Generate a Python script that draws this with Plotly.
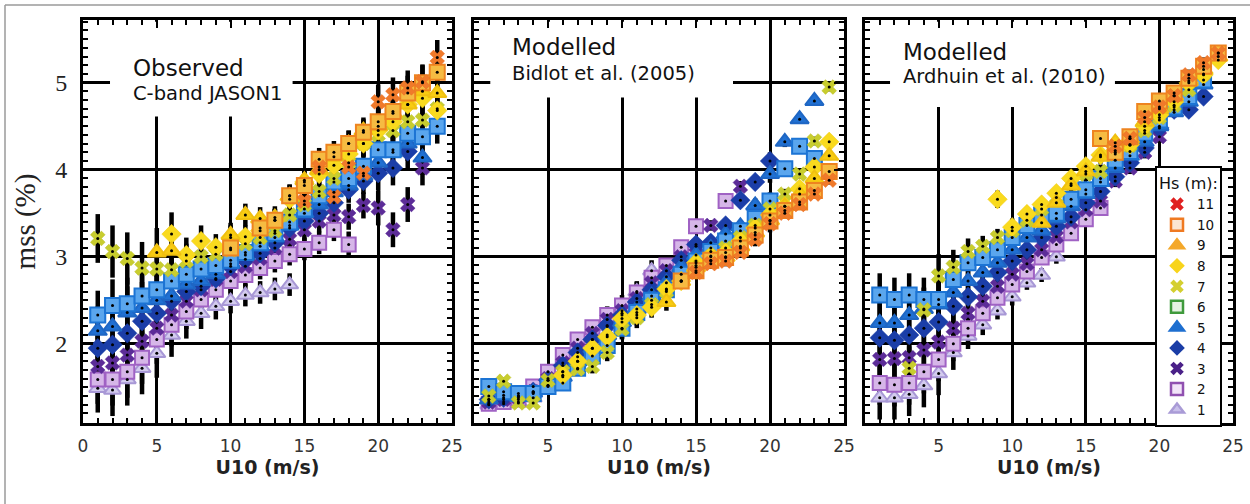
import plotly.graph_objects as go

# ---------------- data ----------------
U10 = list(range(1, 25))                      # wind-speed bins (m/s)
HS_LABELS = ["1", "2", "3", "4", "5", "6", "7", "8", "9", "10", "11"]
N = None

# Observed, C-band JASON1
obs_1 = [1.49, 1.47, 1.59, 1.72, 1.89, 2.10, 2.26, 2.35, 2.43, 2.49, 2.56, 2.59, 2.63, 2.68] + [N] * 10
obs_2 = [1.59, 1.59, 1.68, 1.84, 2.05, 2.22, 2.37, 2.51, 2.62, 2.72, 2.79, 2.87, 2.95, 3.03, 3.09, 3.16, 3.31, 3.14] + [N] * 6
obs_3 = [1.74, 1.78, 1.87, 2.03, 2.18, 2.33, 2.49, 2.62, 2.74, 2.83, 2.89, 2.98, 3.10, 3.20, 3.31, 3.41, 3.48, 3.46, 3.59, 3.56, 3.31, 3.60, 4.02, N]
obs_4 = [1.95, 1.99, 2.12, 2.26, 2.35, 2.49, 2.60, 2.66, 2.75, 2.89, 2.97, 3.04, 3.16, 3.33, 3.41, 3.50, 3.62, 3.77, 3.87, 3.96, 4.02, 4.21, N, N]
obs_5 = [2.15, 2.20, 2.36, 2.41, 2.50, 2.55, 2.68, 2.72, 2.80, 2.92, 3.02, 3.12, 3.22, 3.36, 3.50, 3.60, 3.74, 3.82, 3.93, 4.08, 4.20, 4.30, 4.14, N]
obs_6 = [2.33, 2.44, 2.46, 2.55, 2.62, 2.72, 2.80, 2.86, 2.90, 2.96, 3.05, 3.16, 3.27, 3.40, 3.55, 3.70, 3.86, 3.90, 4.04, 4.23, 4.23, 4.42, 4.38, 4.50]
obs_7 = [3.21, 3.06, 2.98, 2.87, 2.86, 2.85, 2.95, 3.00, 3.03, 3.08, 3.15, 3.22, 3.30, 3.48, 3.60, 3.75, 3.90, 4.08, 4.30, 4.40, 4.45, 4.55, 4.57, 4.70]
obs_8 = [N] * 5 + [3.26, 3.02, 3.18, 3.11, 3.22, 3.23, 3.30, 3.42, 3.66, 3.86, 3.95, 4.05, 4.18, 4.30, 4.45, 4.55, 4.75, 4.82, 4.68]
obs_9 = [N] * 4 + [3.05, 3.07, N, N, N, 3.25, 3.48, 3.44, 3.45, 3.70, 3.88, 4.00, 4.15, 4.30, 4.45, 4.50, 4.65, 4.75, 4.90, 4.88]
obs_10 = [N] * 9 + [3.10, N, 3.33, 3.42, 3.70, 3.82, 4.12, 4.20, 4.30, 4.43, 4.55, 4.67, 4.88, 5.00, 5.12]
obs_11 = [N] * 14 + [3.64, 4.03, 3.69, 4.03, 3.96, 4.78, 4.86, 4.94, 5.01, 5.29]
obs_err = [0.28, 0.30, 0.30, 0.30, 0.28, 0.25, 0.20, 0.18, 0.15, 0.14, 0.13, 0.13,
           0.13, 0.13, 0.13, 0.13, 0.13, 0.15, 0.15, 0.20, 0.20, 0.20, 0.20, 0.20]

# Modelled, Bidlot et al. (2005)
bid_1 = [1.30, 1.31, 1.33, 1.38, 1.52, 1.68, 1.85, 2.05, 2.20, 2.35, 2.60, 2.84] + [N] * 12
bid_2 = [1.31, 1.33, 1.36, 1.51, 1.68, 1.87, 2.05, 2.19, 2.33, 2.44, 2.59, 2.76, 2.90, 3.11, 3.35, N, 3.64] + [N] * 7
bid_3 = [1.33, 1.36, 1.38, 1.45, 1.60, 1.78, 1.95, 2.12, 2.28, 2.38, 2.52, 2.70, 2.84, 3.00, 3.12, 3.36, N, 3.81] + [N] * 6
bid_4 = [1.36, 1.38, 1.40, 1.45, 1.58, 1.75, 1.90, 2.05, 2.21, 2.33, 2.48, 2.62, 2.77, 2.96, 3.14, 3.16, 3.36, 3.65, 3.86, 4.10] + [N] * 4
bid_5 = [1.36, 1.41, 1.40, 1.44, 1.52, 1.62, 1.80, 1.95, 2.10, 2.25, 2.40, 2.55, 2.70, 2.88, 3.02, 3.10, 3.26, 3.35, 3.59, 3.95, 4.32, 4.58, 4.79, N]
bid_6 = [1.51, 1.45, 1.43, 1.43, 1.51, 1.55, 1.72, 1.86, 1.98, 2.18, 2.36, 2.50, 2.62, 2.80, 2.95, 3.06, 3.18, 3.30, 3.44, 3.64, 4.01, 4.27, 4.13, N]
bid_7 = [1.40, 1.57, 1.32, 1.32, 1.58, 1.68, 1.71, 1.74, 1.90, 2.17, 2.30, 2.45, 2.60, 2.72, 2.90, 3.00, 3.10, 3.22, 3.36, 3.55, 3.72, 3.95, 4.33, 4.95]
bid_8 = [N] * 5 + [1.64, 1.80, 1.95, 2.08, 2.29, 2.33, 2.42, 2.63, 2.72, 2.93, 3.01, 3.05, 3.18, 3.33, 3.48, 3.58, 3.78, 4.03, 4.32]
bid_9 = [N] * 12 + [2.48, 2.72, 2.88, 2.95, 3.00, 3.12, 3.28, 3.42, 3.58, 3.72, 3.90, 4.16]
bid_10 = [N] * 13 + [2.72, 2.84, 2.96, 2.99, 3.10, 3.25, 3.41, 3.53, 3.63, 3.76, 3.98]
bid_11 = [N] * 14 + [2.82, 2.92, 2.95, 3.05, 3.20, 3.38, 3.50, 3.60, 3.72, 3.88]
bid_err = [0.04, 0.04, 0.04, 0.04, 0.05, 0.06, 0.07, 0.08, 0.10, 0.12, 0.12, 0.12,
           0.10, 0.08, 0.07, 0.06, 0.06, 0.06, 0.08, 0.10, 0.06, 0.05, 0.05, 0.05]

# Modelled, Ardhuin et al. (2010)
ard_1 = [1.38, 1.38, 1.42, 1.52, 1.66, 1.90, 2.09, 2.22, 2.38, 2.54, 2.70, 2.79, 3.00] + [N] * 11
ard_2 = [1.55, 1.53, 1.55, 1.68, 1.82, 2.00, 2.18, 2.35, 2.53, 2.68, 2.83, 2.99, 3.14, 3.27, 3.43, 3.56] + [N] * 8
ard_3 = [1.82, 1.83, 1.84, 1.93, 2.02, 2.18, 2.35, 2.49, 2.66, 2.80, 2.92, 3.08, 3.23, 3.40, 3.54, 3.64, 3.87, 4.02, 4.20, 4.38] + [N] * 4
ard_4 = [2.07, 2.04, 2.10, 2.18, 2.25, 2.43, 2.54, 2.66, 2.82, 2.95, 3.08, 3.22, 3.35, 3.46, 3.62, 3.75, 3.92, 4.08, 4.25, 4.48, 4.69, 4.69, 4.84, N]
ard_5 = [2.24, 2.24, 2.33, 2.40, 2.45, 2.59, 2.72, 2.82, 2.93, 3.08, 3.22, 3.30, 3.44, 3.58, 3.72, 3.86, 4.02, 4.16, 4.32, 4.50, 4.66, 4.78, 4.98, N]
ard_6 = [2.56, 2.51, 2.56, 2.51, 2.51, 2.74, 2.93, 2.99, 3.08, 3.22, 3.36, 3.48, 3.50, 3.66, 3.77, 3.90, 4.11, 4.21, 4.42, 4.57, 4.72, 4.84, 5.03, N]
ard_7 = [N, N, 1.72, 2.39, 2.78, 2.88, 3.06, 3.12, 3.22, 3.30, 3.42, 3.55, 3.68, 3.84, 3.95, 3.98, 4.18, 4.28, 4.45, 4.60, 4.74, 4.92, 5.10, N]
ard_8 = [N] * 8 + [3.66, 3.34, 3.49, 3.60, 3.73, 3.90, 4.04, 4.17, 4.22, 4.29, 4.50, 4.63, 4.78, 5.00, 5.09, 5.26]
ard_9 = [N] * 11 + [3.39, 3.62, 3.82, 3.98, 4.15, 4.31, 4.36, 4.55, 4.70, 4.85, 5.02, 5.15, 5.30]
ard_10 = [N] * 15 + [4.36, 4.20, 4.38, 4.67, 4.79, 4.88, 5.05, 5.19, 5.34]
ard_11 = [N] * 16 + [4.27, 4.36, 4.60, 4.72, 4.85, 5.09, 5.23, 5.34]
ard_err = [0.25, 0.25, 0.25, 0.25, 0.25, 0.20, 0.15, 0.12, 0.10, 0.10, 0.08, 0.08,
           0.08, 0.08, 0.08, 0.08, 0.07, 0.07, 0.07, 0.07, 0.06, 0.06, 0.06, 0.06]

X_TICKS_FIRST = [0, 5, 10, 15, 20, 25]
X_TICKS_OTHER = [5, 10, 15, 20, 25]
Y_TICKS = [2, 3, 4, 5]

PANELS = [
    dict(series=[obs_1, obs_2, obs_3, obs_4, obs_5, obs_6, obs_7, obs_8, obs_9, obs_10, obs_11],
         err=obs_err, title="Observed", sub="C-band JASON1"),
    dict(series=[bid_1, bid_2, bid_3, bid_4, bid_5, bid_6, bid_7, bid_8, bid_9, bid_10, bid_11],
         err=bid_err, title="Modelled", sub="Bidlot et al. (2005)"),
    dict(series=[ard_1, ard_2, ard_3, ard_4, ard_5, ard_6, ard_7, ard_8, ard_9, ard_10, ard_11],
         err=ard_err, title="Modelled", sub="Ardhuin et al. (2010)"),
]

# ---------------- styles ----------------
SYMBOLS = ["triangle-up", "square", "x", "diamond", "triangle-up", "square",
           "x", "diamond", "triangle-up", "square", "x"]
SIZES = [15, 14, 13, 15, 16, 15, 13, 15, 16, 15, 13]
FILL = ["#d3cbee", "#d6b6e8", "#5c2c98", "#1b3ea8", "#2070d2", "#5aa6ee",
        "#c8cd2e", "#f9da1e", "#f8cc12", "#f6bb42", "#f07a2a"]
EDGE = ["#a898d6", "#a062c4", "#5c2c98", "#1b3ea8", "#1e66c4", "#1c74d4",
        "#b8bc24", "#f0c810", "#f0c010", "#ee8420", "#e86a20"]
LEG_FILL = ["#c8bfea", "#f2e4f8", "#4a2088", "#1a3da6", "#1e6fd0", "#e6f2e4",
            "#d4cf30", "#f8d41a", "#f4a82a", "#fbe6d4", "#e02020"]
LEG_EDGE = ["#a99bd6", "#9050b0", "#4a2088", "#1a3da6", "#1e6fd0", "#3f9a3c",
            "#d4cf30", "#f8d41a", "#f4a82a", "#ef7a22", "#e02020"]

W, H = 1250, 504
X_DOM = [[83 / W, 452 / W], [474 / W, 844 / W], [865 / W, 1233 / W]]
Y_DOM = [1 - 423 / H, 1 - 20 / H]
Y_RANGE = [1.09, 5.72]
# white boxes behind the panel labels (hide gridlines), in axis units
COVER = [[1.83, 14.2, 4.61], [1.1, 17.5, 4.83], [1.7, 16.98, 4.72]]
TXT_POS = [[131, 68.5, 93], [510, 47, 73], [901, 52, 76]]

fig = go.Figure()

for p, panel in enumerate(PANELS):
    xa = "x" if p == 0 else f"x{p + 1}"
    ya = "y" if p == 0 else f"y{p + 1}"
    # black error bars underneath all markers
    ex, ey, ee = [], [], []
    for s in panel["series"]:
        for xv, yv, ev in zip(U10, s, panel["err"]):
            if yv is not None:
                ex.append(xv); ey.append(yv); ee.append(ev)
    fig.add_trace(go.Scatter(
        x=ex, y=ey, mode="markers", xaxis=xa, yaxis=ya, showlegend=False,
        marker=dict(size=1, opacity=0),
        error_y=dict(type="data", array=ee, color="black", thickness=4.5, width=0),
        hoverinfo="skip"))
    for i, s in enumerate(panel["series"]):
        fig.add_trace(go.Scatter(
            x=U10, y=s, mode="markers", xaxis=xa, yaxis=ya, showlegend=False,
            name=f"Hs {HS_LABELS[i]} m",
            marker=dict(symbol=SYMBOLS[i], size=SIZES[i], color=FILL[i],
                        line=dict(color=EDGE[i], width=2 if SYMBOLS[i] in ("square", "triangle-up") else 0.5))))
    fig.add_trace(go.Scatter(
        x=ex, y=ey, mode="markers", xaxis=xa, yaxis=ya, showlegend=False,
        marker=dict(size=3, color="black"), hoverinfo="skip"))

# legend entries (11 at top)
for i in range(10, -1, -1):
    fig.add_trace(go.Scatter(
        x=[None], y=[None], mode="markers", xaxis="x3", yaxis="y3",
        name=HS_LABELS[i], showlegend=True,
        marker=dict(symbol=SYMBOLS[i], size=12, color=LEG_FILL[i],
                    line=dict(color=LEG_EDGE[i], width=2.5 if SYMBOLS[i] in ("square", "triangle-up") else 0))))

axis_common = dict(showline=True, linewidth=3, linecolor="black", mirror="allticks",
                   showgrid=True, gridcolor="black", gridwidth=2.5, zeroline=False,
                   ticks="inside", tickcolor="black", automargin=False)

layout = dict(
    width=W, height=H, margin=dict(l=0, r=0, t=0, b=0, autoexpand=False),
    paper_bgcolor="white", plot_bgcolor="white", showlegend=True,
    legend=dict(x=1155 / W, y=1 - 166 / H, xanchor="left", yanchor="top",
                bgcolor="white", bordercolor="black", borderwidth=2,
                font=dict(family="DejaVu Sans", size=13.5, color="#111"),
                title=dict(text="Hs (m):", font=dict(family="DejaVu Sans", size=16, color="#111")),
                traceorder="normal", itemsizing="trace", tracegroupgap=0,
                entrywidth=52, entrywidthmode="pixels"),
    shapes=[], annotations=[],
)

for p in range(3):
    xkey = "xaxis" if p == 0 else f"xaxis{p + 1}"
    ykey = "yaxis" if p == 0 else f"yaxis{p + 1}"
    xa = "x" if p == 0 else f"x{p + 1}"
    ya = "y" if p == 0 else f"y{p + 1}"
    layout[xkey] = dict(axis_common, domain=X_DOM[p], anchor=ya, range=[0, 25],
                        tickmode="array", tickvals=X_TICKS_FIRST if p == 0 else X_TICKS_OTHER,
                        ticklen=8, tickwidth=2,
                        minor=dict(dtick=1, ticks="inside", ticklen=5, tickwidth=1.5,
                                   tickcolor="black", showgrid=False),
                        tickfont=dict(family="DejaVu Sans", size=17, color="#333"),
                        ticklabelstandoff=6,
                        title=dict(text="U10 (m/s)", standoff=4,
                                   font=dict(family="DejaVu Sans", size=19, color="#222", weight="bold")))
    layout[ykey] = dict(axis_common, domain=Y_DOM, anchor=xa, range=Y_RANGE,
                        tickmode="array", tickvals=Y_TICKS, ticklen=10, tickwidth=2,
                        minor=dict(dtick=0.1, ticks="inside", ticklen=5, tickwidth=1.5,
                                   tickcolor="black", showgrid=False),
                        showticklabels=(p == 0),
                        tickfont=dict(family="Liberation Serif", size=24, color="#222"),
                        ticklabelstandoff=8)
    if p == 0:
        layout[ykey]["title"] = dict(text="mss (%)", standoff=12,
                                     font=dict(family="Liberation Serif", size=29, color="#222"))
    c = COVER[p]
    layout["shapes"].append(dict(type="rect", xref=xa, yref=ya,
                                 x0=c[0], x1=c[1], y0=c[2], y1=Y_RANGE[1] - 0.02, layer="between",
                                 fillcolor="white", line=dict(width=0)))
    t = TXT_POS[p]
    layout["annotations"].append(dict(text=PANELS[p]["title"], xref="paper", yref="paper",
                                      x=t[0] / W, y=1 - t[1] / H, xanchor="left", yanchor="middle",
                                      showarrow=False, font=dict(family="DejaVu Sans", size=23, color="#111")))
    layout["annotations"].append(dict(text=PANELS[p]["sub"], xref="paper", yref="paper",
                                      x=t[0] / W, y=1 - t[2] / H, xanchor="left", yanchor="middle",
                                      showarrow=False, font=dict(family="DejaVu Sans", size=19.5, color="#111")))

# scanned-page frame lines
layout["shapes"].append(dict(type="line", xref="paper", yref="paper", x0=5 / W, x1=1, y0=1 - 5 / H, y1=1 - 5 / H,
                             line=dict(color="#9a9a9a", width=1.5), layer="above"))
layout["shapes"].append(dict(type="line", xref="paper", yref="paper", x0=5 / W, x1=5 / W, y0=0, y1=1 - 5 / H,
                             line=dict(color="#9a9a9a", width=1.5), layer="above"))

fig.update_layout(layout)
fig.write_html("out.html", config={"displayModeBar": False},
               post_script="document.body.style.margin='0';")
